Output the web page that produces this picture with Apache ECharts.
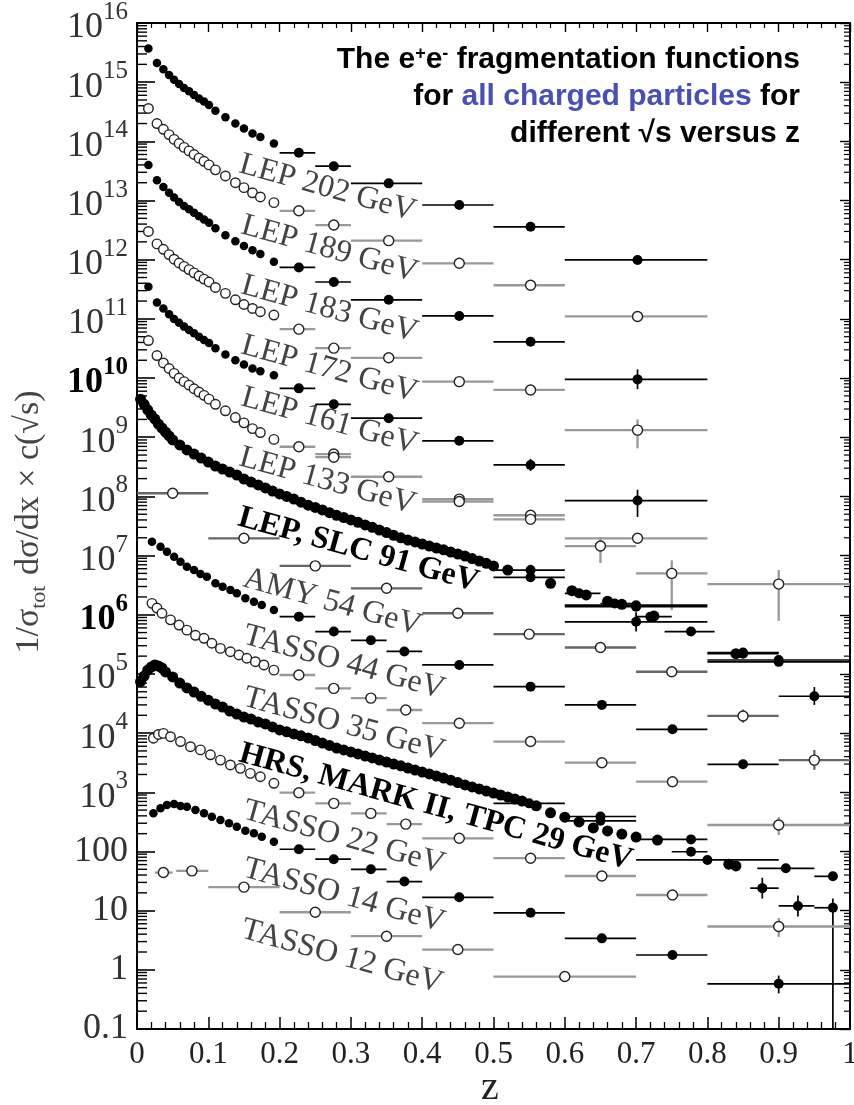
<!DOCTYPE html>
<html>
<head>
<meta charset="utf-8">
<title>e+e- fragmentation functions</title>
<script src="https://cdn.jsdelivr.net/npm/echarts@6/dist/echarts.min.js"></script>
<style>
  html, body { margin: 0; padding: 0; background: #fff; }
  #main { width: 854px; height: 1105px; }
</style>
</head>
<body>
<div id="main"></div>
<script type="text/javascript">
// ---- data (value = 1/sigma dsigma/dx * c(sqrt s)) ----
var lepZ = [0.016, 0.028, 0.037, 0.045, 0.052, 0.059, 0.066, 0.073, 0.080, 0.087, 0.094, 0.101, 0.110, 0.124, 0.138, 0.150, 0.162, 0.173, 0.192];
var lep202 = [3.7e15, 2.1e15, 1.65e15, 1.32e15, 1.1e15, 9.3e14, 8.0e14, 7.0e14, 6.1e14, 5.3e14, 4.7e14, 4.1e14, 3.3e14, 2.55e14, 2.0e14, 1.65e14, 1.36e14, 1.18e14, 9.2e13];
var lep189 = [3.6e14, 2.0e14, 1.6e14, 1.3e14, 1.08e14, 9.2e13, 7.9e13, 6.9e13, 6.0e13, 5.2e13, 4.6e13, 4.0e13, 3.3e13, 2.6e13, 2.0e13, 1.65e13, 1.35e13, 1.15e13, 9.2e12];
var lep183 = [4.0e13, 2.2e13, 1.7e13, 1.35e13, 1.12e13, 9.4e12, 8.1e12, 7.1e12, 6.2e12, 5.4e12, 4.8e12, 4.2e12, 3.4e12, 2.6e12, 2.05e12, 1.7e12, 1.45e12, 1.25e12, 9.2e11];
var lep172 = [3.0e12, 1.85e12, 1.5e12, 1.22e12, 1.02e12, 8.8e11, 7.7e11, 6.8e11, 6.0e11, 5.3e11, 4.7e11, 4.2e11, 3.4e11, 2.7e11, 2.1e11, 1.75e11, 1.5e11, 1.32e11, 1.16e11];
var lep161 = [3.5e11, 1.9e11, 1.5e11, 1.2e11, 1.0e11, 8.6e10, 7.4e10, 6.5e10, 5.7e10, 5.0e10, 4.4e10, 3.9e10, 3.2e10, 2.5e10, 2.0e10, 1.7e10, 1.45e10, 1.3e10, 1.12e10];
var lep133 = [4.3e10, 2.4e10, 1.8e10, 1.45e10, 1.2e10, 1.0e10, 8.7e9, 7.6e9, 6.6e9, 5.8e9, 5.1e9, 4.4e9, 3.6e9, 2.8e9, 2.15e9, 1.75e9, 1.4e9, 1.2e9, 9.2e8];

// binned points: [z, value, zLow, zHigh, (valueLow, valueHigh)]
var bins202 = [[0.227, 6.4e13, 0.2, 0.25], [0.276, 3.8e13, 0.25, 0.3], [0.353, 1.95e13, 0.3, 0.4], [0.452, 8.4e12, 0.4, 0.5], [0.552, 3.6e12, 0.5, 0.6], [0.702, 9.9e11, 0.6, 0.8]];
var bins189 = [[0.227, 6.7e12, 0.2, 0.25], [0.276, 3.85e12, 0.25, 0.3], [0.353, 2.1e12, 0.3, 0.4], [0.452, 8.7e11, 0.4, 0.5], [0.552, 3.7e11, 0.5, 0.6], [0.702, 1.1e11, 0.6, 0.8]];
var bins183 = [[0.227, 7.4e11, 0.2, 0.25], [0.276, 4.2e11, 0.25, 0.3], [0.353, 2.1e11, 0.3, 0.4], [0.452, 1.12e11, 0.4, 0.5], [0.552, 4.1e10, 0.5, 0.6], [0.702, 9.5e9, 0.6, 0.8, 6.5e9, 1.4e10]];
var bins172 = [[0.227, 6.7e10, 0.2, 0.25], [0.276, 3.2e10, 0.25, 0.3], [0.353, 2.2e10, 0.3, 0.4], [0.452, 8.7e9, 0.4, 0.5], [0.552, 6.3e9, 0.5, 0.6], [0.702, 1.32e9, 0.6, 0.8, 6.5e8, 2.0e9]];
var bins161 = [[0.227, 6.7e9, 0.2, 0.25], [0.276, 3.6e9, 0.25, 0.3], [0.353, 2.1e9, 0.3, 0.4], [0.452, 8.7e8, 0.4, 0.5], [0.552, 3.4e8, 0.5, 0.6, 2.7e8, 4.3e8], [0.702, 8.5e7, 0.6, 0.8, 4.5e7, 1.3e8]];
var bins133 = [[0.227, 6.9e8, 0.2, 0.25], [0.276, 5.2e8, 0.25, 0.3], [0.276, 4.6e8, 0.25, 0.3], [0.353, 2.15e8, 0.3, 0.4], [0.452, 9.0e7, 0.4, 0.5], [0.452, 8.2e7, 0.4, 0.5],
  [0.552, 4.8e7, 0.5, 0.6], [0.552, 4.1e7, 0.5, 0.6], [0.65, 1.45e7, 0.6, 0.7, 7.5e6, 2.06e7], [0.702, 1.96e7, 0.6, 0.8], [0.75, 5.0e6, 0.7, 0.8, 1.2e6, 8.3e6], [0.9, 3.3e6, 0.8, 1.0, 7.9e5, 5.7e6]];

var dense91 = [[0.005, 4.4e9], [0.01, 3.6e9], [0.015, 2.9e9], [0.02, 2.37e9], [0.025, 2.03e9], [0.03, 1.67e9], [0.035, 1.43e9], [0.04, 1.22e9], [0.045, 1.05e9], [0.05, 9.0e8],
  [0.06, 7.4e8], [0.07, 6.1e8], [0.08, 5.2e8], [0.09, 4.45e8], [0.1, 3.8e8], [0.11, 3.26e8], [0.12, 2.9e8], [0.13, 2.58e8], [0.14, 2.3e8], [0.15, 1.97e8],
  [0.16, 1.75e8], [0.17, 1.56e8], [0.18, 1.39e8], [0.19, 1.23e8], [0.2, 1.1e8], [0.21, 1.0e8], [0.22, 9.0e7], [0.23, 8.0e7], [0.24, 7.1e7], [0.25, 6.5e7],
  [0.26, 5.9e7], [0.27, 5.3e7], [0.28, 4.8e7], [0.29, 4.4e7], [0.3, 4.0e7], [0.31, 3.65e7], [0.32, 3.3e7], [0.33, 3.0e7], [0.34, 2.7e7], [0.35, 2.45e7],
  [0.36, 2.2e7], [0.37, 2.0e7], [0.38, 1.83e7], [0.39, 1.7e7], [0.4, 1.57e7], [0.41, 1.45e7], [0.42, 1.34e7], [0.43, 1.25e7], [0.44, 1.15e7], [0.45, 1.06e7],
  [0.46, 9.8e6], [0.47, 8.9e6], [0.48, 8.1e6], [0.49, 7.4e6], [0.5, 6.7e6], [0.52, 5.7e6], [0.58, 3.4e6], [0.61, 2.55e6], [0.63, 2.16e6], [0.66, 1.7e6],
  [0.68, 1.5e6], [0.725, 9.5e5], [0.84, 2.2e5]];
var bins91 = [[0.552, 5.7e6, 0.5, 0.6, 4.6e6, 7.0e6], [0.552, 4.3e6, 0.5, 0.6], [0.62, 2.3e6, 0.6, 0.65], [0.7, 1.45e6, 0.6, 0.8], [0.7, 1.37e6, 0.6, 0.8], [0.67, 1.55e6, 0.65, 0.7],
  [0.72, 9.3e5, 0.7, 0.75], [0.7, 7.6e5, 0.6, 0.8, 5.2e5, 1.1e6], [0.777, 5.2e5, 0.74, 0.81], [0.85, 2.3e5, 0.8, 0.9], [0.85, 2.2e5, 0.8, 0.9],
  [0.9, 1.72e5, 0.8, 1.0], [0.9, 1.6e5, 0.8, 1.0], [0.95, 4.2e4, 0.9, 1.0, 3.0e4, 6.0e4]];

var binsAmy = [[0.05, 1.13e8, 0, 0.1], [0.15, 1.96e7, 0.1, 0.2], [0.25, 6.7e6, 0.2, 0.3], [0.35, 2.8e6, 0.3, 0.4], [0.45, 1.06e6, 0.4, 0.5], [0.55, 4.7e5, 0.5, 0.6],
  [0.65, 2.8e5, 0.6, 0.7], [0.75, 1.09e5, 0.7, 0.8], [0.85, 1.95e4, 0.8, 0.9, 1.5e4, 2.5e4], [0.95, 3.5e3, 0.9, 1.0, 2.4e3, 5.2e3]];

var dense44 = [[0.021, 1.71e7], [0.033, 1.41e7], [0.042, 1.16e7], [0.052, 9.6e6], [0.061, 7.9e6], [0.07, 6.5e6], [0.08, 5.7e6], [0.089, 4.9e6], [0.098, 4.4e6],
  [0.11, 3.4e6], [0.12, 2.98e6], [0.131, 2.62e6], [0.14, 2.3e6], [0.152, 1.9e6], [0.164, 1.66e6], [0.175, 1.46e6], [0.192, 1.2e6]];
var bins44 = [[0.227, 9.3e5, 0.2, 0.25], [0.276, 5.2e5, 0.25, 0.3], [0.328, 3.7e5, 0.3, 0.35], [0.375, 2.4e5, 0.35, 0.4], [0.452, 1.42e5, 0.4, 0.5], [0.552, 6.1e4, 0.5, 0.6],
  [0.652, 3.0e4, 0.6, 0.7], [0.751, 1.16e4, 0.7, 0.8], [0.85, 2.97e3, 0.8, 0.9]];

var dense35 = [[0.021, 1.56e6], [0.028, 1.3e6], [0.035, 1.06e6], [0.047, 8.2e5], [0.059, 6.7e5], [0.07, 5.5e5], [0.082, 4.5e5], [0.094, 4.0e5], [0.105, 3.3e5], [0.117, 2.7e5],
  [0.131, 2.37e5], [0.143, 2.09e5], [0.154, 1.84e5], [0.166, 1.61e5], [0.178, 1.42e5], [0.192, 1.16e5]];
var bins35 = [[0.227, 9.6e4, 0.2, 0.25], [0.276, 5.7e4, 0.25, 0.3], [0.328, 3.9e4, 0.3, 0.35], [0.377, 2.46e4, 0.35, 0.4], [0.452, 1.47e4, 0.4, 0.5], [0.552, 7.2e3, 0.5, 0.6],
  [0.652, 3.16e3, 0.6, 0.7], [0.751, 1.51e3, 0.7, 0.8], [0.9, 280, 0.8, 1.0, 190, 380]];

var dense29 = [[0.005, 7.4e4], [0.01, 9.2e4], [0.015, 1.16e5], [0.02, 1.31e5], [0.025, 1.42e5], [0.03, 1.36e5], [0.035, 1.26e5], [0.04, 1.08e5], [0.05, 8.9e4], [0.06, 7.0e4],
  [0.07, 5.8e4], [0.08, 4.95e4], [0.09, 4.2e4], [0.1, 3.6e4], [0.11, 3.1e4], [0.12, 2.76e4], [0.13, 2.36e4], [0.14, 2.1e4], [0.15, 1.87e4], [0.16, 1.73e4],
  [0.17, 1.54e4], [0.18, 1.43e4], [0.19, 1.27e4], [0.2, 1.13e4], [0.21, 1.05e4], [0.22, 9.7e3], [0.23, 9.0e3], [0.24, 8.3e3], [0.25, 7.5e3], [0.26, 6.8e3],
  [0.27, 6.2e3], [0.28, 5.6e3], [0.29, 5.2e3], [0.3, 4.8e3], [0.31, 4.45e3], [0.32, 4.1e3], [0.33, 3.8e3], [0.34, 3.5e3], [0.35, 3.25e3], [0.36, 3.0e3],
  [0.37, 2.8e3], [0.38, 2.57e3], [0.39, 2.38e3], [0.4, 2.2e3], [0.41, 2.04e3], [0.42, 1.88e3], [0.43, 1.74e3], [0.44, 1.6e3], [0.45, 1.46e3], [0.46, 1.33e3],
  [0.47, 1.23e3], [0.48, 1.14e3], [0.49, 1.05e3], [0.5, 970], [0.51, 900], [0.52, 830], [0.53, 770], [0.54, 710], [0.56, 590], [0.58, 450],
  [0.6, 380], [0.62, 315], [0.64, 250], [0.66, 222], [0.68, 197], [0.7, 175], [0.73, 156], [0.83, 61], [0.84, 57]];
var bins29 = [[0.55, 650, 0.5, 0.6], [0.65, 390, 0.6, 0.7], [0.65, 330, 0.6, 0.7], [0.777, 160, 0.7, 0.8], [0.777, 99, 0.75, 0.8], [0.8, 72, 0.7, 0.9],
  [0.91, 52, 0.87, 0.95], [0.877, 24, 0.86, 0.9, 16, 36], [0.927, 12, 0.9, 0.95, 8, 18], [0.976, 38, 0.95, 0.98], [0.976, 11.2, 0.95, 0.98, 0.1, 16]];

var dense22 = [[0.023, 8.2e3], [0.03, 9.5e3], [0.037, 9.9e3], [0.047, 8.7e3], [0.061, 7.2e3], [0.075, 5.9e3], [0.089, 5.2e3], [0.103, 4.3e3], [0.117, 3.5e3],
  [0.131, 2.9e3], [0.145, 2.54e3], [0.159, 2.09e3], [0.173, 1.83e3], [0.192, 1.42e3]];
var bins22 = [[0.227, 985, 0.2, 0.25], [0.276, 650, 0.25, 0.3], [0.328, 440, 0.3, 0.35], [0.377, 290, 0.35, 0.4], [0.452, 167, 0.4, 0.5], [0.552, 77, 0.5, 0.6],
  [0.652, 38.5, 0.6, 0.7], [0.751, 18.4, 0.7, 0.8], [0.9, 5.4, 0.8, 1.0, 3.6, 7.5]];

var dense14 = [[0.023, 442], [0.033, 536], [0.042, 610], [0.052, 634], [0.061, 587], [0.07, 571], [0.082, 502], [0.094, 442], [0.105, 387], [0.117, 340],
  [0.129, 299], [0.14, 262], [0.152, 224], [0.164, 203], [0.175, 177], [0.192, 146]];
var bins14 = [[0.227, 109, 0.2, 0.25], [0.276, 74, 0.25, 0.3], [0.328, 50, 0.3, 0.35], [0.375, 31, 0.35, 0.4], [0.452, 16.8, 0.4, 0.5], [0.552, 9.2, 0.5, 0.6],
  [0.652, 3.4, 0.6, 0.7], [0.751, 1.78, 0.7, 0.8], [0.9, 0.58, 0.8, 1.0, 0.4, 0.8]];

var bins12 = [[0.037, 44, 0.025, 0.05], [0.077, 47, 0.055, 0.1], [0.15, 25, 0.1, 0.2], [0.25, 9.4, 0.2, 0.3], [0.35, 3.7, 0.3, 0.4], [0.45, 2.2, 0.4, 0.5], [0.6, 0.77, 0.5, 0.7]];

var curveLabels = ['LEP 202 GeV', 'LEP 189 GeV', 'LEP 183 GeV', 'LEP 172 GeV', 'LEP 161 GeV', 'LEP 133 GeV', 'LEP, SLC 91 GeV',
  'AMY 54 GeV', 'TASSO 44 GeV', 'TASSO 35 GeV', 'HRS, MARK II, TPC 29 GeV', 'TASSO 22 GeV', 'TASSO 14 GeV', 'TASSO 12 GeV'];
var xTickLabels = ['0', '0.1', '0.2', '0.3', '0.4', '0.5', '0.6', '0.7', '0.8', '0.9', '1'];
var yPlainLabels = {'-1': '0.1', '0': '1', '1': '10', '2': '100'};
var yDecades = [0.1, 1, 10, 100, 1e3, 1e4, 1e5, 1e6, 1e7, 1e8, 1e9, 1e10, 1e11, 1e12, 1e13, 1e14, 1e15, 1e16];

// where the curve labels sit (pixels) and which ones are bold
var labelPos = [[240, 164], [242, 225], [242, 285], [242, 345], [242, 397], [240, 457], [239, 517],
  [244, 578], [244, 635], [244, 697], [240, 753], [244, 810], [244, 868], [242, 929]];
var boldLabels = [6, 10];

var SERIF = '"Liberation Serif", "Times New Roman", serif';
var SANS = '"Liberation Sans", Arial, sans-serif';

function zip(zs, vs) {
    return zs.map(function (z, i) { return [z, vs[i]]; });
}

// horizontal bin bars and optional vertical error bars
function errorBars(color, width) {
    return function (params, api) {
        var v = api.value(1);
        var a = api.coord([api.value(2), v]);
        var b = api.coord([api.value(3), v]);
        var kids = [{
            type: 'line',
            shape: {x1: a[0], y1: a[1], x2: b[0], y2: b[1]},
            style: {stroke: color, lineWidth: width}
        }];
        var lo = api.value(4), hi = api.value(5);
        if (lo > 0 && hi > 0) {
            var p = api.coord([api.value(0), lo]);
            var q = api.coord([api.value(0), hi]);
            kids.push({
                type: 'line',
                shape: {x1: p[0], y1: p[1], x2: q[0], y2: q[1]},
                style: {stroke: color, lineWidth: width}
            });
        }
        return {type: 'group', children: kids};
    };
}

var series = [];

function addSet(dense, bins, filled, denseSize, barColor) {
    if (bins.length) {
        series.push({
            type: 'custom',
            silent: true,
            clip: true,
            z: 2,
            dimensions: ['z', 'v', 'lo', 'hi', 'vlo', 'vhi'],
            encode: {x: 0, y: 1},
            data: bins,
            renderItem: errorBars(barColor || (filled ? '#000' : '#999'), filled ? 1.7 : 2.3)
        });
    }
    var pts = dense.concat(bins.map(function (b) { return [b[0], b[1]]; }));
    series.push({
        type: 'scatter',
        silent: true,
        clip: true,
        z: 3,
        symbol: 'circle',
        symbolSize: function (val, p) { return p.dataIndex < dense.length ? denseSize : 10; },
        itemStyle: filled ? {color: '#000', opacity: 1}
                          : {color: '#fff', borderColor: '#222', borderWidth: 1.4, opacity: 1},
        data: pts
    });
}

addSet(zip(lepZ, lep202), bins202, true, 8.5);
addSet(zip(lepZ, lep189), bins189, false, 9.5);
addSet(zip(lepZ, lep183), bins183, true, 8.5);
addSet(zip(lepZ, lep172), bins172, false, 9.5);
addSet(zip(lepZ, lep161), bins161, true, 8.5);
addSet(zip(lepZ, lep133), bins133, false, 9.5);
addSet(dense91, bins91, true, 11);
addSet([], binsAmy, false, 9.5, '#666');
addSet(dense44, bins44, true, 8.5);
addSet(dense35, bins35, false, 9.5);
addSet(dense29, bins29, true, 11);
addSet(dense22, bins22, false, 9.5);
addSet(dense14, bins14, true, 8.5);
addSet([], bins12, false, 9.5);

// log minor ticks on the left and right frame
var yMinor = [];
for (var n = -1; n < 16; n++) {
    for (var k = 2; k <= 9; k++) yMinor.push([0, k * Math.pow(10, n)]);
}
series.push({
    type: 'custom',
    silent: true,
    clip: false,
    z: 1,
    data: yMinor,
    encode: {x: 0, y: 1},
    renderItem: function (params, api) {
        var y = api.coord([0, api.value(1)])[1];
        var cs = params.coordSys;
        return {type: 'group', children: [
            {type: 'line', shape: {x1: cs.x, y1: y, x2: cs.x + 10, y2: y}, style: {stroke: '#000', lineWidth: 1.4}},
            {type: 'line', shape: {x1: cs.x + cs.width, y1: y, x2: cs.x + cs.width - 6, y2: y}, style: {stroke: '#000', lineWidth: 1.2}}
        ]};
    }
});

var graphics = curveLabels.map(function (t, i) {
    var bold = boldLabels.indexOf(i) >= 0;
    return {
        type: 'text',
        x: labelPos[i][0],
        y: labelPos[i][1],
        rotation: -0.27,
        silent: true,
        style: {
            text: t,
            fontFamily: SERIF,
            fontSize: 32,
            fontWeight: bold ? 'bold' : 'normal',
            fill: bold ? '#000' : '#444',
            align: 'left',
            verticalAlign: 'middle'
        }
    };
});

graphics.push(
    {type: 'text', x: 800, y: 60, silent: true, style: {
        text: '{t|The e}{p|+}{t|e}{p|-}{t| fragmentation functions}',
        align: 'right', verticalAlign: 'middle',
        rich: {
            t: {fontFamily: SANS, fontWeight: 'bold', fontSize: 30, fill: '#000'},
            p: {fontFamily: SANS, fontWeight: 'bold', fontSize: 18, fill: '#000', verticalAlign: 'top'}
        }
    }},
    {type: 'text', x: 800, y: 97, silent: true, style: {
        text: '{t|for }{c|all charged particles}{t| for}',
        align: 'right', verticalAlign: 'middle',
        rich: {
            t: {fontFamily: SANS, fontWeight: 'bold', fontSize: 30, fill: '#000'},
            c: {fontFamily: SANS, fontWeight: 'bold', fontSize: 30, fill: '#4850b0'}
        }
    }},
    {type: 'text', x: 800, y: 134, silent: true, style: {
        text: 'different \u221As versus z',
        align: 'right', verticalAlign: 'middle',
        fontFamily: SANS, fontWeight: 'bold', fontSize: 30, fill: '#000'
    }},
    {type: 'text', x: 31, y: 522, rotation: Math.PI / 2, silent: true, style: {
        text: '{n|1/\u03C3}{s|tot}{n| d\u03C3/dx \u00D7 c(\u221As)}',
        align: 'center', verticalAlign: 'middle',
        rich: {
            n: {fontFamily: SERIF, fontSize: 34, fill: '#444', verticalAlign: 'top'},
            s: {fontFamily: SERIF, fontSize: 22, fill: '#444', verticalAlign: 'top', padding: [16, 2, 0, 0]}
        }
    }},
    {type: 'text', x: 490, y: 1088, silent: true, style: {
        text: 'z', align: 'center', verticalAlign: 'middle',
        fontFamily: SERIF, fontSize: 40, fill: '#222'
    }}
);

var frameLine = {show: true, onZero: false, lineStyle: {color: '#000', width: 2}};

var option = {
    animation: false,
    backgroundColor: '#fff',
    grid: {left: 137, right: 4, top: 23, bottom: 76, outerBoundsMode: 'none', containLabel: false},
    xAxis: [{
        type: 'value', min: 0, max: 1, interval: 0.1, position: 'bottom',
        axisLine: frameLine,
        axisTick: {show: true, inside: true, length: 12, lineStyle: {color: '#000', width: 1.5}},
        minorTick: {show: true, splitNumber: 5, length: 7, lineStyle: {color: '#000', width: 1.3}},
        splitLine: {show: false},
        axisLabel: {
            margin: 10, fontFamily: SERIF, fontSize: 31, color: '#222', hideOverlap: false,
            formatter: function (v) { return xTickLabels[Math.round(v * 10)]; }
        }
    }, {
        type: 'value', min: 0, max: 1, interval: 0.1, position: 'top',
        axisLine: frameLine,
        axisTick: {show: true, inside: true, length: 9, lineStyle: {color: '#000', width: 1.4}},
        minorTick: {show: true, splitNumber: 5, length: 5, lineStyle: {color: '#000', width: 1.2}},
        splitLine: {show: false},
        axisLabel: {show: false}
    }],
    yAxis: [{
        type: 'log', logBase: 10, min: 0.1, max: 1e16, splitNumber: 17, position: 'left',
        axisLine: frameLine,
        axisTick: {show: true, inside: true, length: 18, customValues: yDecades, lineStyle: {color: '#000', width: 1.6}},
        splitLine: {show: false},
        axisLabel: {
            margin: 9, interval: 0, hideOverlap: false,
            customValues: yDecades,
            formatter: function (v) {
                var n = Math.round(Math.log10(v));
                if (n < 3) return '{a|' + yPlainLabels[n] + '}';
                var bold = (n === 10 || n === 6);
                return bold ? '{B|10}{S|' + n + '}' : '{a|10}{s|' + n + '}';
            },
            rich: {
                a: {fontFamily: SERIF, fontSize: 36, color: '#333', verticalAlign: 'bottom'},
                s: {fontFamily: SERIF, fontSize: 25, color: '#333', verticalAlign: 'bottom', padding: [0, 0, 21, 0]},
                B: {fontFamily: SERIF, fontSize: 36, color: '#000', fontWeight: 'bold', verticalAlign: 'bottom'},
                S: {fontFamily: SERIF, fontSize: 25, color: '#000', fontWeight: 'bold', verticalAlign: 'bottom', padding: [0, 0, 21, 0]}
            }
        }
    }, {
        type: 'log', logBase: 10, min: 0.1, max: 1e16, splitNumber: 17, position: 'right',
        axisLine: frameLine,
        axisTick: {show: true, inside: true, length: 10, customValues: yDecades, lineStyle: {color: '#000', width: 1.4}},
        splitLine: {show: false},
        axisLabel: {show: false}
    }],
    graphic: graphics,
    series: series
};

var myChart = echarts.init(document.getElementById('main'));
myChart.setOption(option);
</script>
</body>
</html>
